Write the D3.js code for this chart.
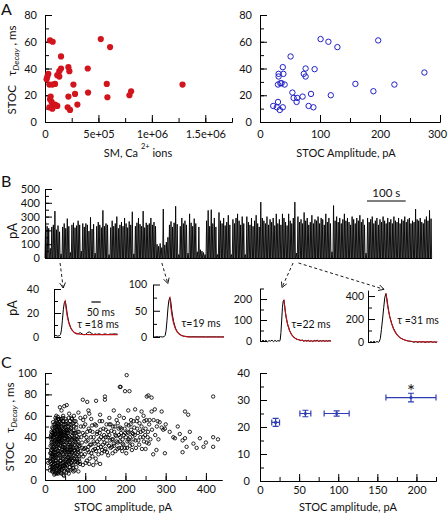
<!DOCTYPE html>
<html><head><meta charset="utf-8">
<script src="https://cdn.jsdelivr.net/npm/d3@7"></script>
<style>
body{margin:0;background:#fff}
text{font-family:Lato,"Open Sans",sans-serif;fill:#111}
</style></head>
<body><svg id="c" width="448" height="515"></svg>
<script>
// ---------- DATA ----------
// Panel A left: spatial spread (SM, Ca2+ ions) vs tau decay
const smIons = [47e3,72e3,31e3,22e3,41e3,94e3,69e3,53e3,62e3,78e3,41e3,94e3,115e3,115e3,134e3,150e3,150e3,219e3,228e3,219e3,212e3,234e3,266e3,281e3,303e3,400e3,403e3,522e3,578e3,584e3,609e3,790e3,806e3,1287e3,15e3,134e3,47e3,69e3];
const tauSM  = [61,60,36,34,28,28.5,28,19,15,12,11,13,12,35,38,40,49,41,38,19,11,9,28,21,13,40,22,62,28.5,18.5,56,20,23,28,32,34,17,10];
// Panel A right: STOC amplitude vs tau decay
const ampA = [101,114,129,197,51,38,39,31,31,34,30,41,76,73,76,91,54,56,62,61,71,85,81,89,118,159,189,224,274,22,28,30,33,38,36];
const tauA = [62,60,56,61,49,41,36,36,34,29,28,28,40,36,34,39.5,22,18,18,15,19,21,12,11,20,28.5,23,28,37,12,11,15,9,11,29];
// Panel B: peak current of events, one value per 4-s bin (0..1000 s)
const binSeconds = 4;
const tracePeaks = [
260,230,215,70,225,240,340,205,235,190,30,225,250,215,285,230,40,240,255,220,235,270,240,50,250,
225,250,240,195,295,210,245,35,230,260,240,220,345,230,250,240,25,220,270,230,250,300,215,240,260,
230,290,250,220,265,240,335,30,230,255,290,245,230,340,220,255,240,250,290,240,260,230,100,85,105,
75,355,95,115,150,240,265,225,255,375,245,25,230,290,250,270,240,35,320,255,230,285,250,45,225,
60,50,40,25,270,345,230,350,250,290,225,25,330,270,250,290,235,260,310,240,25,280,250,290,320,
270,240,300,250,25,300,260,240,290,230,270,310,250,225,405,290,270,250,300,240,280,260,290,235,320,
250,280,240,320,290,260,235,320,270,250,290,405,35,300,260,280,250,330,270,290,240,260,310,250,280,
270,300,250,290,280,240,320,260,290,250,45,380,270,300,260,290,250,280,320,270,290,260,240,300,280,
250,290,270,310,260,280,240,35,290,260,280,300,250,270,290,240,280,260,300,270,250,290,260,280,250,
300,270,260,290,250,280,270,300,260,280,290,250,270,260,355,280,270,290,260,250,280,300,270,345,285];
const eventTimes = [39, 302, 641, 655]; // s, events expanded below
// Expanded single events: [ms, pA]
const ev1Trace = [[0,1],[10,1.3],[20,0.7],[30,1.2],[35,2],[40,6],[45,14],[50,23],[55,28.5],[60,30],[65,26],[70,20],[75,15.5],[80,12],[90,7.5],[100,5],[110,3.5],[120,2.6],[130,2.8],[140,3.6],[150,2.6],[160,1.8],[170,2.2],[180,3.8],[190,4.2],[200,3.1],[210,2],[220,2.6],[230,2.1],[240,2.7],[250,2.2],[260,2],[270,2.6],[280,2.3],[290,2],[300,2.5],[310,2.3],[320,2.6],[330,2.5],[340,2.4]];
const ev1Fit = [[58,29.5],[60,30],[65,23.2],[70,18.1],[75,14.2],[80,11.2],[90,7.3],[100,5],[110,3.7],[120,3],[130,2.6],[140,2.3],[160,2.1],[200,2],[260,2],[340,2]];
const ev2Trace = [[0,0.5],[10,0],[20,0.8],[30,0.2],[40,0.6],[50,0],[60,0.8],[65,3],[70,12],[75,32],[80,55],[85,70],[90,75],[95,68],[100,52],[105,40],[110,30],[120,17],[130,10],[140,6],[150,3.5],[160,2],[170,1.2],[180,0.6],[200,0.3],[220,0.5],[240,0.2],[260,0.4],[280,0.1],[300,0.3],[320,0.2],[340,0.3],[360,0.1],[380,0.2]];
const ev2Fit = [[88,74],[90,75],[95,57.7],[100,44.3],[105,34],[110,26.2],[120,15.5],[130,9.1],[140,5.4],[150,3.2],[160,1.9],[180,0.7],[200,0.2],[240,0],[380,0]];
const ev3Trace = [[0,2],[8,-3],[16,4],[24,-2],[32,3],[40,-4],[48,2],[56,-1],[64,4],[72,-3],[80,3],[88,-2],[96,2],[104,-1],[108,5],[112,40],[116,100],[120,160],[124,190],[128,195],[132,168],[136,135],[140,110],[148,78],[158,50],[168,32],[178,21],[188,13],[198,8],[208,6],[218,2],[226,5],[234,-2],[242,3],[250,-1],[258,4],[266,-2],[274,2],[282,-3],[290,3],[298,0],[306,4],[314,-2],[322,2],[330,-1],[338,3],[346,-2],[354,2],[362,-1],[370,2],[380,0]];
const ev3Fit = [[126,194],[128,195],[133,155],[138,124],[148,78.6],[158,49.9],[168,31.7],[178,20.1],[188,12.8],[198,8.1],[218,3.3],[238,1.3],[258,0.5],[300,0],[380,0]];
const ev4Trace = [[0,3],[8,-5],[16,4],[24,-4],[32,6],[40,-3],[48,4],[56,-2],[60,2],[66,30],[72,110],[78,200],[84,300],[90,390],[96,420],[101,380],[106,320],[111,265],[116,225],[126,165],[136,120],[146,88],[156,62],[166,45],[176,33],[186,24],[196,18],[206,12],[216,9],[226,6],[236,4],[246,-3],[256,5],[266,-4],[276,3],[286,-2],[296,4],[306,-5],[316,3],[326,-2],[336,5],[346,-3],[356,2],[364,-4],[370,2]];
const ev4Fit = [[94,418],[96,420],[101,357],[106,304],[116,220],[126,160],[136,116],[146,84],[156,61],[166,44],[176,32],[196,16.7],[216,8.8],[236,4.6],[256,2.4],[296,0.7],[370,0]];
const evTau = ["τ =18 ms","τ=19 ms","τ=22 ms","τ =31 ms"];
// Panel C left: all events, amplitude (pA) vs tau (ms), flat [amp,tau,...]
const cCore = [18,8,22,10,20,14,24,12,27,7,30,9,26,16,19,19,23,21,28,18,31,13,34,10,36,15,33,20,29,24,21,26,25,28,32,27,37,23,40,18,38,12,42,9,45,13,44,20,41,26,35,30,27,32,22,35,19,31,30,36,36,34,43,31,47,27,49,18,51,11,55,14,53,22,50,30,46,36,39,39,33,42,26,40,21,44,29,47,37,45,44,42,48,47,55,40,58,33,56,26,60,19,62,12,65,16,64,24,63,31,61,38,57,44,53,50,46,52,40,50,31,53,24,49,20,38,17,24,16,15,28,13,33,6,39,7,48,8,57,9,66,10,70,14,68,21,72,27,69,34,67,41,71,46,64,48,75,38,78,30,76,22,74,17,80,24,82,33,79,41,77,49,70,53,62,55,35,57,44,58,27,56,20,54,23,5,47,4,59,6,52,15,43,16,35,25,31,31,26,22,39,21,45,24,50,26,54,35,42,37,38,32,30,41,24,45,34,49,41,46,51,44,59,28,66,29,73,33,
19,12,25,18,32,16,38,27,43,28,48,22,52,19,58,17,63,20,67,25,60,24,55,29,49,33,44,35,40,41,35,38,29,35,23,31,18,28,21,22,27,26,33,24,37,18,41,13,46,17,50,13,54,10,60,15,65,20,69,18,72,23,61,33,56,37,52,41,47,42,36,50,30,50,25,52,18,44,16,35,22,40,28,43,34,36,40,35,45,31,51,36,57,31,62,28,68,31,74,28,71,40,65,37,59,41,53,46,48,39,42,43,37,43,32,46,26,46,20,48,24,37,31,38,37,36,43,39,50,49,58,50,66,45,73,44,14,20,13,12,15,28,12,17,14,40,16,45];
const cCore2 = [17,10,21,17,25,23,29,29,33,33,37,40,41,44,45,48,49,52,53,55,16,22,20,29,24,33,28,38,32,43,36,47,40,53,44,55,18,36,22,42,26,50,30,55,34,52,38,46,42,40,46,33,50,28,54,24,58,21,62,18,66,14,70,11,74,9,78,12,82,16,84,22,81,29,77,35,73,39,69,44,65,49,61,52,57,53,55,47,51,39,47,30,43,22,39,15,35,11,31,7,27,11,23,15,19,22,26,34,32,37,38,41,44,45,50,42,56,38,62,35,68,38,74,36,80,38,76,44,72,50,66,52,60,47,54,44,48,45,42,49,36,54,30,47,25,43,21,40,17,33,15,25,19,8,25,6,35,8,41,6,53,7,63,9,71,8,79,17,75,25,71,30,66,33,62,40,58,46,52,52,46,55,40,57,32,59,26,58,22,52,18,49,15,42,20,24,24,26,28,21,32,14,36,12,40,10,44,11,48,14,52,17,56,21,60,26,64,28,68,26,72,20,76,18,80,20,83,26,85,32,81,45,78,52,73,55,67,57,59,58,51,57,45,60,38,55,33,50,28,51,23,46,19,42,16,38,14,32,13,25,15,18,17,13,21,9];
const cBand = [85,20,88,27,92,35,95,22,98,42,100,30,104,18,106,37,109,26,112,46,115,33,118,22,121,40,124,29,127,51,130,36,133,24,136,44,139,31,142,55,145,38,148,27,151,47,154,34,157,23,160,42,163,52,166,31,169,38,172,45,175,27,178,56,181,35,184,42,187,49,190,30,193,38,196,58,199,44,202,25,205,36,208,51,211,40,214,47,217,33,220,55,223,42,226,30,229,48,232,37,235,53,238,45,241,29,244,40,247,55,250,48,253,35,256,45,259,52,262,38,266,47,270,56,274,42,278,50,282,38,285,54,
82,36,84,45,87,15,90,40,93,30,96,50,99,24,102,36,105,45,108,31,111,20,114,40,117,51,120,28,123,34,126,20,129,43,132,30,135,38,138,47,141,25,144,33,147,42,150,29,153,52,156,40,159,32,162,37,165,46,168,25,171,34,174,50,177,41,180,29,183,48,186,36,189,44,192,27,195,33,198,48,201,40,204,30,207,44,210,36,213,52,216,28,219,43,222,49,225,37,228,55,231,44,234,33,237,40,240,50,243,46,246,36,249,42,252,56,255,40,258,34,86,17,94,14,101,16,110,15,
81,28,83,40,86,32,89,50,91,24,94,44,97,29,100,52,103,40,106,28,109,48,112,33,115,25,118,45,121,36,124,52,127,27,130,45,133,33,136,55,139,40,142,28,145,48,148,35,151,40,154,26,157,45,160,52,163,30,166,38,169,50,172,32,175,42,178,36,181,53,184,30,187,40,190,48,193,34,196,42,199,30,202,52,205,45,208,38,211,32,214,56,217,44,220,38];
const cSparse = [94,75,105,73,127,74,149,78,149,75,186,87,199,83,210,83,253,78,257,79,265,77,418,78,54,70,48,69,37,68,41,65,83,63,108,65,110,62,137,61,171,65,207,65,224,66,240,64,265,64,273,66,290,64,348,64,356,61,298,48,294,47,290,49,319,40,323,39,335,43,348,39,342,37,369,34,385,39,394,31,418,31,418,40,377,30,352,31,342,26,298,25,277,28,269,24,250,29,120,14,137,15,128,16.5,83,8,46,5,29,6,12,9,8,16,60,62,66,58,72,60,28,60,32,57,76,55,88,58,95,56,100,59,115,57,160,58,185,60,230,58,245,60,260,56,280,55,300,52,310,45,330,50,360,45,400,35,430,38,203,98,188,87];
// Panel C right: binned means
const ampMean = [20, 58, 98, 193];
const ampErr  = [5, 7, 16, 32];
const tauMean = [21.7, 25, 25, 30.9];
const tauErr  = [1.5, 1.2, 1.0, 1.6];
// tick labels
const smTickLabels = ["0","5e+05","1e+06","1.5e+06"];

// ---------- DRAW ----------
const svg = d3.select("#c");
const RED = "#d2141c", BLUE = "#2020c8", EBLUE = "#2f3db4";

function styleAxis(g, fs){
  g.attr("font-family", null).attr("font-size", null);
  g.selectAll("path,line").attr("stroke","#000").attr("stroke-width",1);
  g.selectAll("text").style("font-size", (fs||11)+"px").attr("fill","#111");
}
function yAx(x, scale, major, minor, pad, fmt, fs){
  const gm = svg.append("g").attr("transform",`translate(${x},0)`)
    .call(d3.axisLeft(scale).tickValues(minor).tickSize(-4).tickSizeOuter(0).tickFormat(""));
  styleAxis(gm);
  const g = svg.append("g").attr("transform",`translate(${x},0)`)
    .call(d3.axisLeft(scale).tickValues(major).tickSize(-7).tickSizeOuter(0).tickPadding(pad).tickFormat(fmt||d3.format("d")));
  styleAxis(g, fs);
  return g;
}
function xAx(y, scale, major, minor, pad, fmt){
  const gm = svg.append("g").attr("transform",`translate(0,${y})`)
    .call(d3.axisBottom(scale).tickValues(minor).tickSize(-4).tickSizeOuter(0).tickFormat(""));
  styleAxis(gm);
  const g = svg.append("g").attr("transform",`translate(0,${y})`)
    .call(d3.axisBottom(scale).tickValues(major).tickSize(-7).tickSizeOuter(0).tickPadding(pad).tickFormat(fmt||d3.format("d")));
  styleAxis(g);
  return g;
}
function letter(t,x,y){ svg.append("text").attr("x",x).attr("y",y).style("font-size","16px").text(t); }
function tauLabel(x,y){
  const t = svg.append("text").attr("transform",`translate(${x},${y}) rotate(-90)`)
    .attr("text-anchor","middle").style("font-size","11.5px");
  t.append("tspan").text("STOC");
  t.append("tspan").attr("dx",9).text("τ");
  t.append("tspan").attr("dy",3).style("font-size","8.5px").style("font-style","italic").text("Decay");
  t.append("tspan").attr("dy",-3).text(" , ms");
}
function rotLabel(txt,x,y,fs){
  svg.append("text").attr("transform",`translate(${x},${y}) rotate(-90)`)
    .attr("text-anchor","middle").style("font-size",fs+"px").text(txt);
}
function title(txt,x,y){
  return svg.append("text").attr("x",x).attr("y",y).attr("text-anchor","middle").style("font-size","11px").text(txt);
}
const range = (a,b,s)=>d3.range(a,b+s/2,s);

// ===== Panel A =====
letter("A",1,15);
const xSM = d3.scaleLinear().domain([0,1.75e6]).range([45,232]);
const yA = d3.scaleLinear().domain([0,80]).range([122,15]);
xAx(122, xSM, [0,5e5,1e6,1.5e6], range(0,1.75e6,2.5e5), 8, (d,i)=>smTickLabels[i]);
yAx(45, yA, range(0,80,20), range(0,80,10), 8);
svg.append("g").selectAll("circle").data(smIons.map((v,i)=>[v,tauSM[i]])).join("circle")
  .attr("cx",d=>xSM(d[0])).attr("cy",d=>yA(d[1])).attr("r",3.1).attr("fill",RED);
tauLabel(16,70);
const tA = svg.append("text").attr("x",138).attr("y",157).attr("text-anchor","middle").style("font-size","11px");
tA.append("tspan").text("SM, Ca ");
tA.append("tspan").attr("dy",-8).style("font-size","7.5px").text("2+");
tA.append("tspan").attr("dy",8).text(" ions");

const xAmpA = d3.scaleLinear().domain([0,300]).range([260,440]);
const gxA = xAx(122, xAmpA, range(0,300,100), range(0,300,50), 8);
gxA.selectAll(".tick text").filter(d=>d===300).attr("dx",-3);
yAx(260, yA, range(0,80,20), range(0,80,10), 8);
svg.append("g").selectAll("circle").data(ampA.map((v,i)=>[v,tauA[i]])).join("circle")
  .attr("cx",d=>xAmpA(d[0])).attr("cy",d=>yA(d[1])).attr("r",2.7)
  .attr("fill","none").attr("stroke",BLUE).attr("stroke-width",1);
title("STOC Amplitude, pA",346,157);

// ===== Panel B =====
letter("B",1,187);
const xB = d3.scaleLinear().domain([0,1000]).range([45,432]);
const yB = d3.scaleLinear().domain([0,500]).range([258,189]);
yAx(45, yB, range(0,500,100), range(0,500,50), 5);
rotLabel("pA",17,231,13);
const tracePts = [];
tracePeaks.forEach((v,i)=>{
  const t0 = i*binSeconds;
  tracePts.push([t0,0],[t0+binSeconds*0.4,v],[t0+binSeconds*0.75,0]);
});
svg.append("path").attr("d", d3.line().x(d=>xB(d[0])).y(d=>yB(d[1]))(tracePts))
  .attr("fill","none").attr("stroke","#000").attr("stroke-width",0.9);
svg.append("line").attr("x1",xB(0)).attr("x2",xB(1000)).attr("y1",yB(0)+0.5).attr("y2",yB(0)+0.5).attr("stroke","#000").attr("stroke-width",1);
// 100 s scale bar
svg.append("line").attr("x1",xB(832)).attr("x2",xB(932)).attr("y1",201).attr("y2",201).attr("stroke","#000").attr("stroke-width",1.2);
svg.append("text").attr("x",xB(882)).attr("y",197).attr("text-anchor","middle").style("font-size","11.5px").text("100 s");

// single events
const panels = [
  {trace:ev1Trace, fit:ev1Fit, x0:54, tmax:340, y0:337, dom:40, major:[0,20,40], minor:[10,30], pad:15, tx:98, ty:328},
  {trace:ev2Trace, fit:ev2Fit, x0:153, tmax:380, y0:337, dom:100, major:[0,50,100], minor:[25,75], pad:6, tx:201, ty:327},
  {trace:ev3Trace, fit:ev3Fit, x0:260, tmax:380, y0:341, dom:250, major:[0,100,200], minor:[50,150,250], pad:8, tx:311, ty:328},
  {trace:ev4Trace, fit:ev4Fit, x0:368, tmax:370, y0:342, dom:450, major:[0,200,400], minor:[100,300], pad:4, tx:418, ty:324}
];
const msPx = 0.187;
const ySpan = [48, 52.5, 52.5, 51.7];
panels.forEach((p,k)=>{
  p.xs = d3.scaleLinear().domain([0,p.tmax]).range([p.x0, p.x0+p.tmax*msPx]);
  p.ys = d3.scaleLinear().domain([0,p.dom]).range([p.y0, p.y0-ySpan[k]]);
  yAx(p.x0, p.ys, p.major, p.minor, p.pad, null, 10.5);
  const ln = d3.line().x(d=>p.xs(d[0])).y(d=>p.ys(d[1]));
  svg.append("path").attr("d",ln(p.trace)).attr("fill","none").attr("stroke","#000").attr("stroke-width",1);
  svg.append("path").attr("d",ln(p.fit)).attr("fill","none").attr("stroke","#c0101a").attr("stroke-width",1.1);
  svg.append("text").attr("x",p.tx).attr("y",p.ty).attr("text-anchor","middle").style("font-size","10.5px").text(evTau[k]);
  // dashed arrow from trace event to expanded panel peak
  const peak = p.trace.reduce((a,b)=>b[1]>a[1]?b:a);
  const sx = xB(eventTimes[k]), sy = yB(0)+5;
  const ex = p.xs(peak[0])-2, ey = p.ys(p.dom)-1;
  svg.append("line").attr("x1",sx).attr("y1",sy).attr("x2",ex).attr("y2",ey)
    .attr("stroke","#000").attr("stroke-width",0.9).attr("stroke-dasharray","3,2.5");
  const ang = Math.atan2(ey-sy, ex-sx), L=6, w=0.5;
  const hd = [[ex-L*Math.cos(ang-w), ey-L*Math.sin(ang-w)],[ex,ey],[ex-L*Math.cos(ang+w), ey-L*Math.sin(ang+w)]];
  svg.append("path").attr("d",d3.line()(hd)).attr("fill","none").attr("stroke","#000").attr("stroke-width",0.9);
});
rotLabel("pA",17,308,12.5);
// 50 ms bar
svg.append("line").attr("x1",panels[0].xs(200)).attr("x2",panels[0].xs(250)).attr("y1",302).attr("y2",302).attr("stroke","#000").attr("stroke-width",1.2);
svg.append("text").attr("x",panels[0].xs(250)).attr("y",316).attr("text-anchor","middle").style("font-size","10.5px").text("50 ms");

// ===== Panel C =====
letter("C",1,368);
const xC = d3.scaleLinear().domain([0,440]).range([45,222]);
const yC = d3.scaleLinear().domain([0,100]).range([480,373]);
xAx(480, xC, range(0,400,100), range(0,400,50), 5);
yAx(45, yC, range(0,100,20), range(0,100,10), 8);
const pairs = a => d3.range(0,a.length,2).map(i=>[a[i],a[i+1]]);
svg.append("g").selectAll("circle").data([...pairs(cCore),...pairs(cCore2),...pairs(cBand),...pairs(cSparse)]).join("circle")
  .attr("cx",d=>xC(d[0])).attr("cy",d=>yC(d[1])).attr("r",1.7)
  .attr("fill","none").attr("stroke","#000").attr("stroke-width",0.85);
tauLabel(14,427);
title("STOC amplitude, pA",123,510.5);

const xC2 = d3.scaleLinear().domain([0,225]).range([260,436]);
const yC2 = d3.scaleLinear().domain([0,40]).range([481,373]);
xAx(481, xC2, range(0,200,50), range(0,225,25), 5);
yAx(260, yC2, range(0,40,10), range(0,40,5), 10);
const eb = svg.append("g").attr("stroke",EBLUE).attr("stroke-width",1.2).attr("fill","none");
ampMean.forEach((m,i)=>{
  const cx = xC2(m), cy = yC2(tauMean[i]);
  const x1 = xC2(m-ampErr[i]), x2 = xC2(m+ampErr[i]);
  const y1 = yC2(tauMean[i]-tauErr[i]), y2 = yC2(tauMean[i]+tauErr[i]);
  eb.append("path").attr("d",`M${x1},${cy}H${x2}M${x1},${cy-3}V${cy+3}M${x2},${cy-3}V${cy+3}`);
  eb.append("path").attr("d",`M${cx},${y1}V${y2}M${cx-3},${y1}H${cx+3}M${cx-3},${y2}H${cx+3}`);
  svg.append("circle").attr("cx",cx).attr("cy",cy).attr("r",1.6).attr("fill",EBLUE);
});
svg.append("text").attr("x",xC2(ampMean[3])).attr("y",yC2(tauMean[3]+tauErr[3])+5)
  .attr("text-anchor","middle").style("font-size","19px").text("*");
title("STOC amplitude, pA",348,510.5);
</script></body></html>
